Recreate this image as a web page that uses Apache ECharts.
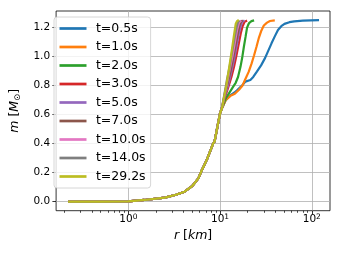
<!DOCTYPE html>
<html>
<head>
<meta charset="utf-8">
<script src="https://cdn.jsdelivr.net/npm/echarts@6/dist/echarts.min.js"></script>
<style>
html,body{margin:0;padding:0;background:#fff;}
#chart{width:342px;height:257px;}
</style>
</head>
<body>
<div id="chart"></div>
<script>
// ---- data ----
const seriesNames = ['t=0.5s','t=1.0s','t=2.0s','t=3.0s','t=5.0s','t=7.0s','t=10.0s','t=14.0s','t=29.2s'];
const seriesColors = ['#1f77b4','#ff7f0e','#2ca02c','#d62728','#9467bd','#8c564b','#e377c2','#7f7f7f','#bcbd22'];

// common inner profile (r in km, m in solar masses)
const rCore = [0.22, 0.5, 1.0, 1.5, 2.5, 3.3, 4.1, 5.0, 5.8, 6.3, 7.2, 8.4, 8.7, 10.0];
const mCore = [0.0, 0.0, 0.002, 0.012, 0.028, 0.048, 0.069, 0.11, 0.161, 0.215, 0.292, 0.40, 0.414, 0.61];

// outer parts per time
const rT05 = [10.6, 11.5, 13, 14.5, 15.4, 17, 18.9, 21.4, 23, 25.2, 28, 30.9, 33.5, 36.4, 39.5, 42.8, 46.5, 50.4, 57, 64.4, 80, 120];
const mT05 = [0.65, 0.70, 0.735, 0.755, 0.77, 0.795, 0.828, 0.839, 0.86, 0.897, 0.94, 0.99, 1.04, 1.092, 1.14, 1.184, 1.21, 1.226, 1.238, 1.244, 1.249, 1.252];
const rT10 = [10.6, 11.5, 13, 14.5, 16, 17.5, 19, 20.5, 22, 23.5, 25, 26.5, 28, 30, 32.5, 35, 39.5];
const mT10 = [0.65, 0.70, 0.73, 0.745, 0.77, 0.80, 0.85, 0.895, 0.95, 1.01, 1.07, 1.13, 1.175, 1.215, 1.235, 1.246, 1.25];
const rT20 = [10.6, 11.5, 12.6, 13.8, 14.8, 15.7, 16.7, 17.5, 18.2, 19, 19.7, 20.7, 22, 23.5];
const mT20 = [0.655, 0.71, 0.75, 0.79, 0.82, 0.86, 0.93, 1.0, 1.07, 1.14, 1.2, 1.232, 1.245, 1.25];
const rT30 = [10.5, 11.3, 12.3, 13.3, 14.2, 15.1, 16, 16.8, 17.6, 18.5, 19.7];
const mT30 = [0.65, 0.72, 0.79, 0.86, 0.93, 1.01, 1.09, 1.16, 1.21, 1.24, 1.25];
const rT50 = [10.5, 11.2, 12.2, 13.2, 14.1, 15, 15.8, 16.6, 17.4, 18.5];
const mT50 = [0.65, 0.72, 0.80, 0.89, 0.97, 1.06, 1.14, 1.2, 1.24, 1.25];
const rT70 = [10.5, 11.1, 12.0, 13.0, 13.9, 14.8, 15.6, 16.3, 17.0, 17.7];
const mT70 = [0.65, 0.72, 0.81, 0.90, 0.99, 1.08, 1.16, 1.215, 1.243, 1.25];
const rT100 = [10.5, 11.0, 11.9, 12.8, 13.7, 14.6, 15.4, 16.1, 17.0];
const mT100 = [0.65, 0.715, 0.82, 0.92, 1.01, 1.11, 1.19, 1.235, 1.25];
const rT140 = [10.5, 11.0, 11.8, 12.7, 13.5, 14.4, 15.1, 15.7, 16.3];
const mT140 = [0.65, 0.72, 0.83, 0.93, 1.03, 1.13, 1.2, 1.24, 1.25];
const rT292 = [10.5, 10.9, 11.7, 12.6, 13.4, 14.2, 14.8, 15.3, 16.0];
const mT292 = [0.645, 0.70, 0.80, 0.93, 1.04, 1.15, 1.225, 1.245, 1.253];

const rTails = [rT05, rT10, rT20, rT30, rT50, rT70, rT100, rT140, rT292];
const mTails = [mT05, mT10, mT20, mT30, mT50, mT70, mT100, mT140, mT292];

const xMajorTicks = [1, 10, 100];
const xMinorTicks = [0.2,0.3,0.4,0.5,0.6,0.7,0.8,0.9,2,3,4,5,6,7,8,9,20,30,40,50,60,70,80,90];
const yTicks = [0.0, 0.2, 0.4, 0.6, 0.8, 1.0, 1.2];
const xRange = [0.163, 158];
const yRange = [-0.062, 1.315];

// ---- chart ----
const FONT = 'DejaVu Sans';
const lg = v => Math.log10(v);

const series = seriesNames.map((name, i) => {
  const r = rCore.concat(rTails[i]);
  const m = mCore.concat(mTails[i]);
  return {
    name: name,
    type: 'line',
    xAxisIndex: 0,
    yAxisIndex: 0,
    showSymbol: false,
    symbol: 'none',
    smooth: false,
    color: seriesColors[i],
    lineStyle: { width: 2.2, color: seriesColors[i] },
    data: r.map((rv, k) => [lg(rv), m[k]]),
    z: 2 + i
  };
});

const chart = echarts.init(document.getElementById('chart'), null, { renderer: 'canvas' });
chart.setOption({
  animation: false,
  backgroundColor: '#fff',
  textStyle: { fontFamily: FONT },
  grid: {
    left: 49.3, right: 12, top: 11, bottom: 46.3,
    show: true, borderColor: '#000', borderWidth: 0.8, backgroundColor: 'transparent'
  },
  legend: {
    orient: 'vertical',
    left: 54, top: 17,
    padding: [4, 5, 4, 5.5],
    backgroundColor: 'rgba(255,255,255,0.8)',
    borderColor: '#cccccc', borderWidth: 0.8, borderRadius: 3,
    icon: 'rect',
    itemWidth: 27, itemHeight: 2.7,
    itemGap: 3.5,
    data: seriesNames,
    textStyle: { fontFamily: FONT, fontSize: 12.5, color: '#000', lineHeight: 15, padding: [0, 0, 0, 4.4] }
  },
  xAxis: [{
    type: 'value',
    min: lg(xRange[0]), max: lg(xRange[1]),
    position: 'bottom',
    name: '{i|r} [{i|km}]',
    nameLocation: 'middle',
    nameGap: 15,
    nameTextStyle: {
      fontFamily: FONT, fontSize: 12.5, color: '#000', verticalAlign: 'top',
      rich: { i: { fontFamily: FONT, fontSize: 12.5, fontStyle: 'italic', color: '#000' } }
    },
    axisLine: { show: false, onZero: false },
    axisTick: { show: true, length: 3.7, inside: false, lineStyle: { color: '#000', width: 0.8 }, customValues: xMajorTicks.map(lg) },
    axisLabel: {
      show: true, margin: 2, customValues: xMajorTicks.map(lg),
      formatter: v => '{b|10}{s|' + Math.round(v) + '}',
      rich: {
        b: { fontFamily: FONT, fontSize: 10.5, color: '#000', lineHeight: 12, verticalAlign: 'bottom' },
        s: { fontFamily: FONT, fontSize: 7.5, color: '#000', lineHeight: 12, verticalAlign: 'top' }
      }
    },
    splitLine: { show: true, lineStyle: { color: '#b0b0b0', width: 0.8 } }
  }, {
    type: 'value',
    min: lg(xRange[0]), max: lg(xRange[1]),
    position: 'bottom',
    offset: 0,
    axisLine: { show: false, onZero: false },
    axisTick: { show: true, length: 2.1, lineStyle: { color: '#000', width: 0.7 }, customValues: xMinorTicks.map(lg) },
    axisLabel: { show: false },
    splitLine: { show: false }
  }],
  yAxis: {
    type: 'value',
    min: yRange[0], max: yRange[1],
    name: '{i|m} [{i|M}{s|⊙}]',
    nameLocation: 'middle',
    nameGap: 19,
    nameRotate: 90,
    nameTextStyle: {
      fontFamily: FONT, fontSize: 12.5, color: '#000',
      rich: {
        i: { fontFamily: FONT, fontSize: 12.5, fontStyle: 'italic', color: '#000', lineHeight: 16, verticalAlign: 'middle' },
        s: { fontFamily: FONT, fontSize: 8.5, color: '#000', lineHeight: 16, verticalAlign: 'bottom' }
      }
    },
    axisLine: { show: false, onZero: false },
    axisTick: { show: true, length: 3.7, lineStyle: { color: '#000', width: 0.8 }, customValues: yTicks },
    axisLabel: {
      show: true, margin: 6, customValues: yTicks,
      fontFamily: FONT, fontSize: 10.5, color: '#000',
      formatter: v => Number(v).toFixed(1)
    },
    splitLine: { show: true, lineStyle: { color: '#b0b0b0', width: 0.8 } }
  },
  series: series
});
</script>
</body>
</html>
